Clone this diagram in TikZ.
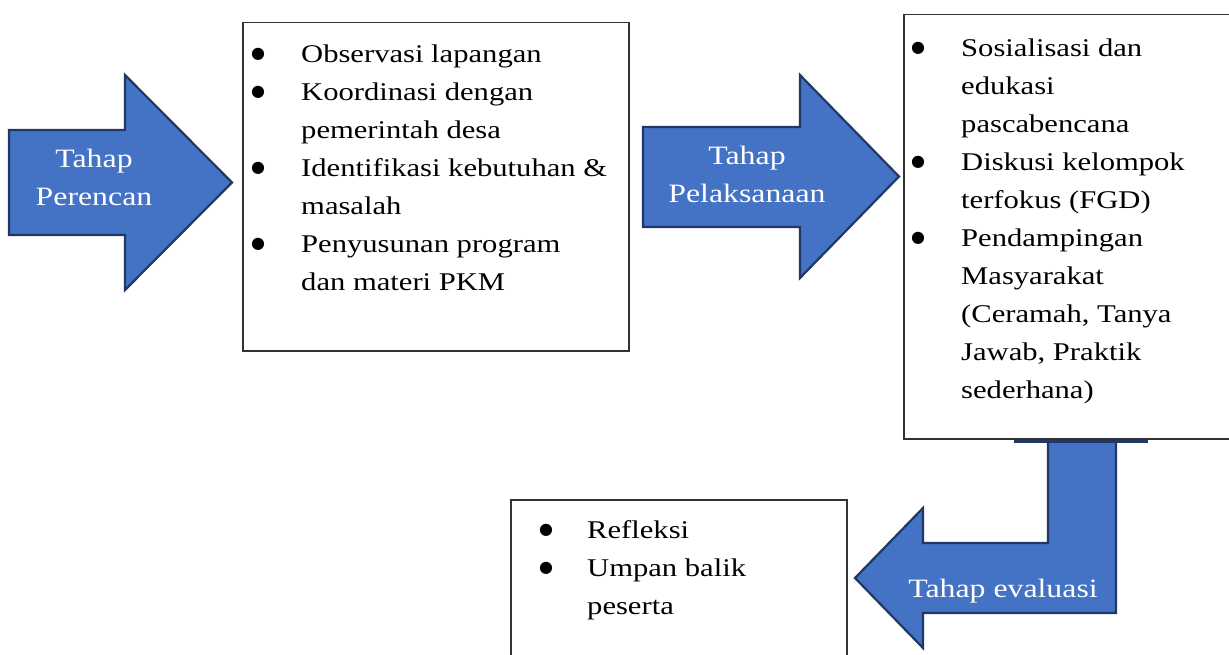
\documentclass[tikz,border=0pt]{standalone}
\usepackage{fontspec}
\setmainfont{Liberation Serif}[FakeStretch=1.2]
\newfontfamily\bulfont{DejaVu Sans}
\usetikzlibrary{arrows}
\definecolor{stageblue}{HTML}{4472C4}
\definecolor{stageline}{HTML}{203864}
\newcommand{\bulmark}{\hspace*{-1pt}\raisebox{3.5pt}{\bulfont\fontsize{16}{38}\selectfont ●}}
\newcommand{\bul}{\makebox[49pt][l]{\bulmark}}
\newcommand{\ind}{\hspace*{49pt}}
\newcommand{\topstrut}{\rule{0pt}{20pt}}

\begin{document}
\begin{tikzpicture}[x=1pt,y=-1pt,
                    list box/.style={draw=black!80,line width=1.5pt,fill=white,anchor=north west,inner sep=0pt},
                    list text/.style={anchor=north west,align=left,inner sep=0pt,font=\fontsize{25.5}{38}\selectfont},
                    stage arrow/.style={fill=stageblue,draw=stageline,line width=2.2pt,line join=miter},
                    stage label/.style={text=white,align=center,inner sep=0pt,font=\fontsize{26.5}{38}\selectfont}]

    \useasboundingbox (0,0) rectangle (1229,655);

    % arrows
    \draw[stage arrow] (9,130) -- (125,130) -- (125,75) -- (232,182.5) -- (125,290) -- (125,235) -- (9,235) -- cycle;
    \draw[stage arrow] (643,127) -- (800,127) -- (800,75) -- (899,176.5) -- (800,278) -- (800,227) -- (643,227) -- cycle;
    \draw[stage arrow] (1048,425) -- (1048,543) -- (923,543) -- (923,508) -- (855,578) -- (923,648) -- (923,613) -- (1116,613) -- (1116,425) -- cycle;

    % boxes
    \node[list box,minimum width=386pt,minimum height=328pt] (b1) at (242,22) {};
    \node[list box,minimum width=330pt,minimum height=424pt] (b2) at (903,14) {};
    \node[list box,minimum width=336pt,minimum height=175pt] (b3) at (510,499) {};
    \draw[stageline,line width=3pt] (1014,441.5) -- (1148,441.5);

    \node[list text] (l1) at (252,42) {\topstrut\bul Observasi lapangan\\
        \bul Koordinasi dengan\\
        \ind pemerintah desa\\
        \bul Identifikasi kebutuhan \&\\
        \ind masalah\\
        \bul Penyusunan program\\
        \ind dan materi PKM};
    \node[list text] (l2) at (912,36) {\topstrut\bul Sosialisasi dan\\
        \ind edukasi\\
        \ind pascabencana\\
        \bul Diskusi kelompok\\
        \ind terfokus (FGD)\\
        \bul Pendampingan\\
        \ind Masyarakat\\
        \ind (Ceramah, Tanya\\
        \ind Jawab, Praktik\\
        \ind sederhana)};
    \node[list text] (l3) at (540,518) {\topstrut\makebox[47pt][l]{\bulmark}Refleksi\\
        \makebox[47pt][l]{\bulmark}Umpan balik\\
        \hspace*{47pt}peserta};

    % labels
    \node[stage label,anchor=north] (t1) at (94,147) {\topstrut Tahap\\Perencan};
    \node[stage label,anchor=north] (t2) at (747,144) {\topstrut Tahap\\Pelaksanaan};
    \node[stage label,anchor=base] (t3) at (1003,597) {Tahap evaluasi};
\end{tikzpicture}
\end{document}
